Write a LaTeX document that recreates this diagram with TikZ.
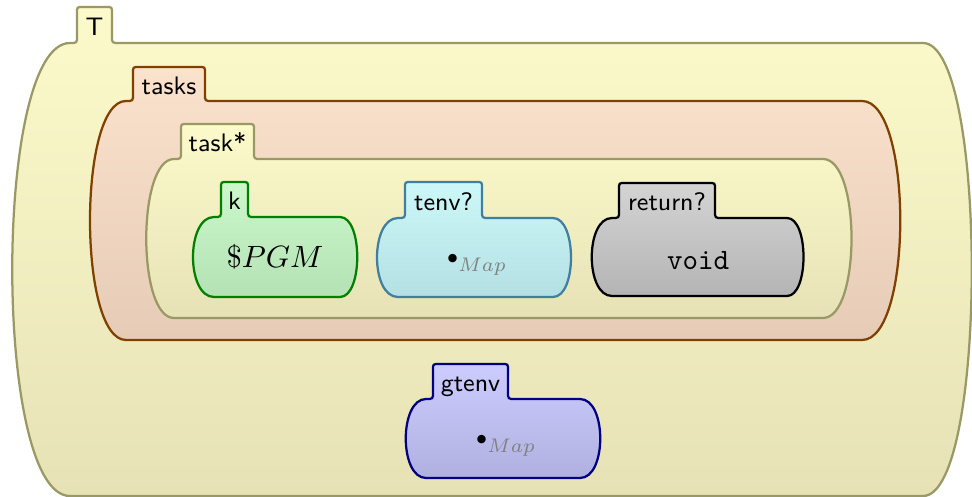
\documentclass[tikz,border=0pt]{standalone}
\usepackage{tikz}
\usetikzlibrary{positioning}
\definecolor{yellowtop}{HTML}{FCFACB}
\definecolor{yellowbot}{HTML}{E6E2B6}
\definecolor{yellowbd}{HTML}{999966}
\definecolor{orangetop}{HTML}{FBE2CC}
\definecolor{orangebot}{HTML}{E6CCB6}
\definecolor{orangebd}{HTML}{804000}
\definecolor{greentop}{HTML}{CCF8CC}
\definecolor{greenbot}{HTML}{B4E2B4}
\definecolor{greenbd}{HTML}{008000}
\definecolor{cyantop}{HTML}{CCF8F8}
\definecolor{cyanbot}{HTML}{B4E0E4}
\definecolor{cyanbd}{HTML}{407F9F}
\definecolor{graytop}{HTML}{D4D4D4}
\definecolor{graybot}{HTML}{B4B4B4}
\definecolor{bluetop}{HTML}{CCCCFF}
\definecolor{bluebot}{HTML}{B0B0E0}
\definecolor{bluebd}{HTML}{000080}
\definecolor{mapgray}{HTML}{808080}
\tikzset{
    config/.style={x=0.0125cm,y=-0.0125cm,line width=0.8pt},
    ycell/.style={draw=yellowbd, top color=yellowtop, bottom color=yellowbot},
    ocell/.style={draw=orangebd, top color=orangetop, bottom color=orangebot},
    gcell/.style={draw=greenbd, top color=greentop, bottom color=greenbot},
    ccell/.style={draw=cyanbd, top color=cyantop, bottom color=cyanbot},
    kcell/.style={draw=black, top color=graytop, bottom color=graybot},
    bcell/.style={draw=bluebd, top color=bluetop, bottom color=bluebot},
    tab/.style={font=\sffamily\small, inner sep=0pt, text height=1.6ex, text depth=.25ex},
    content/.style={font=\fontsize{10.5}{12}\selectfont, inner sep=0pt},
    }
\newcommand{\emptymap}{$\mathord{\vcenter{\hbox{\scriptsize$\bullet$}}}_{\textcolor{mapgray}{Map}}$}
% #1 style, #2/#3 tab left/right, #4 tab top, #5 body top, #6 body bottom,
% #7 left control, #8 right end of top line, #9 right control
\newcommand{\cellpath}[9]{%
  \path[#1] (#2-7,#5) .. controls (#2,#5) .. (#2,#5-7)
    -- (#2,#4+6) .. controls (#2,#4) .. (#2+6,#4)
    -- (#3-6,#4) .. controls (#3,#4) .. (#3,#4+6)
    -- (#3,#5-7) .. controls (#3,#5) .. (#3+7,#5)
    -- (#8,#5) .. controls (#9,#5) and (#9,#6) .. (#8,#6)
    -- (#2-7,#6) .. controls (#7,#6) and (#7,#5) .. (#2-7,#5) -- cycle;}

\begin{document}
\begin{tikzpicture}[config]
    \useasboundingbox (0,0) rectangle (972,497);
    % cells, outermost first
    \cellpath{ycell}{77}{112}{7}{43}{496}{-7}{923}{988}
    \cellpath{ocell}{133}{205}{67}{101}{340}{78}{862}{913}
    \cellpath{ycell}{181}{254}{124}{159}{318}{137}{823}{861}
    \cellpath{gcell}{221}{248}{182}{217}{297}{186}{340}{363}
    \cellpath{ccell}{405}{482}{182}{218}{297}{370}{553}{577}
    \cellpath{kcell}{619}{715}{183}{218}{296}{585}{787}{809}
    \cellpath{bcell}{433}{508}{364}{399}{478}{399}{580}{607}

    % tab labels
    \node[tab] (lT) at (94.5,27) {T};
    \node[tab] (ltasks) at (169,86) {tasks};
    \node[tab] (ltask) at (217.5,143) {task*};
    \node[tab] (lk) at (234.5,201) {k};
    \node[tab] (ltenv) at (443.5,202) {tenv?};
    \node[tab] (lreturn) at (667,202) {return?};
    \node[tab] (lgtenv) at (470.5,383) {gtenv};

    % cell contents
    \node[content] (pgm) at (275,257) {$\$PGM$};
    \node[content] (tenvmap) at (477,265) {\emptymap};
    \node[content] (retval) at (698,261) {\texttt{void}};
    \node[content] (gtenvmap) at (506,446) {\emptymap};
\end{tikzpicture}
\end{document}
